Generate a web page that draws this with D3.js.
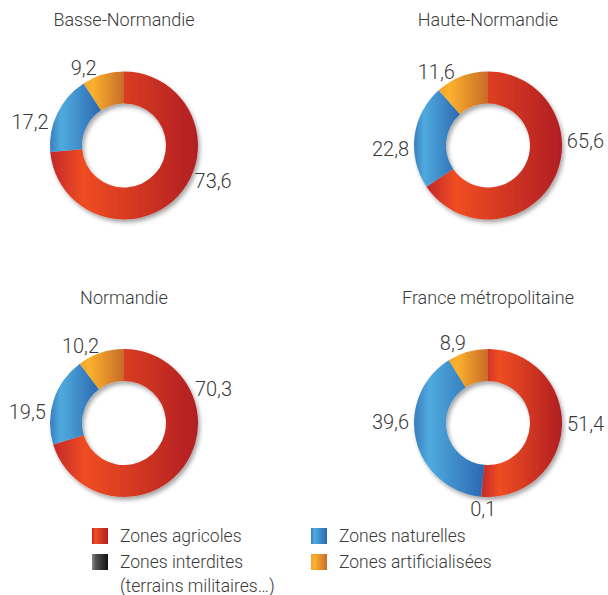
<!DOCTYPE html>
<html>
    <head>
        <meta charset="UTF-8" />
        <title>Occupation des sols - Normandie</title>
        <style>
            body { margin: 0; background: #fff; }
            text { font-family: Roboto, "Open Sans", sans-serif; font-weight: 300; fill: #3a3a3a; }
        </style>
    </head>
    <body>
        <script src="https://d3js.org/d3.v7.min.js"></script>
        <script type="text/javascript">
            // data (in %)
            var regions = ["Basse-Normandie", "Haute-Normandie", "Normandie", "France métropolitaine"];
            var categories = ["Zones agricoles", "Zones interdites", "Zones naturelles", "Zones artificialisées"];
            var agricoles = [73.6, 65.6, 70.3, 51.4];
            var interdites = [0, 0, 0, 0.1];
            var naturelles = [17.2, 22.8, 19.5, 39.6];
            var artificialisees = [9.2, 11.6, 10.2, 8.9];

            // where each value label sits around its ring (degrees, clockwise from top)
            var labelAngles = [
                [114, null, 285.5, 334],
                [87, null, 268, 328],
                [66.5, null, 277.5, 333.5],
                [90.5, 183, 270.5, 337.5]
            ];

            var gradients = [
                ["#c4272a", "#ef4d23", "#b11e24"],
                ["#8a8a8a", "#555555", "#111111"],
                ["#3a7ec0", "#4faade", "#2c69b1"],
                ["#f2a42e", "#fbb12d", "#c86b2b"]
            ];

            var width = 608, height = 595;
            var rOuter = 74, rInner = 42;

            var fr = d3.formatLocale({ decimal: ",", thousands: " ", grouping: [3], currency: ["", " €"] });
            var fmt = fr.format(".1f");

            var svg = d3.select("body").append("svg")
                .attr("width", width)
                .attr("height", height);

            var defs = svg.append("defs");

            gradients.forEach(function(g, i) {
                var lg = defs.append("linearGradient")
                    .attr("id", "grad" + i)
                    .attr("x1", 0).attr("x2", 1).attr("y1", 0).attr("y2", 0);
                lg.append("stop").attr("offset", "0%").attr("stop-color", g[0]);
                lg.append("stop").attr("offset", "22%").attr("stop-color", g[1]);
                lg.append("stop").attr("offset", "100%").attr("stop-color", g[2]);
            });

            defs.append("filter")
                .attr("id", "shadow")
                .attr("x", "-20%").attr("y", "-20%")
                .attr("width", "140%").attr("height", "140%")
                .append("feDropShadow")
                .attr("dx", 2).attr("dy", 3)
                .attr("stdDeviation", 2)
                .attr("flood-color", "#000")
                .attr("flood-opacity", 0.35);

            var col = d3.scalePoint().domain([0, 1]).range([124, 488]);
            var row = d3.scalePoint().domain([0, 1]).range([145.5, 423]);

            var pie = d3.pie().sort(null).value(function(d) { return d; });
            var arc = d3.arc().innerRadius(rInner).outerRadius(rOuter);

            regions.forEach(function(name, i) {
                var values = [agricoles[i], interdites[i], naturelles[i], artificialisees[i]];
                var cx = col(i % 2), cy = row(Math.floor(i / 2));

                var g = svg.append("g")
                    .attr("transform", "translate(" + cx + "," + cy + ")");

                g.append("text")
                    .attr("x", 0)
                    .attr("y", -119.5)
                    .attr("text-anchor", "middle")
                    .style("font-size", "18px")
                    .text(name);

                g.append("g")
                    .attr("filter", "url(#shadow)")
                    .selectAll("path")
                    .data(pie(values))
                    .join("path")
                    .attr("fill", function(d, j) { return "url(#grad" + j + ")"; })
                    .attr("d", arc);

                // value labels
                values.forEach(function(v, j) {
                    if (!v) return;
                    var a = labelAngles[i][j] * Math.PI / 180;
                    var t = g.append("text")
                        .attr("text-anchor", "middle")
                        .attr("dy", "0.35em")
                        .style("font-size", "20px")
                        .text(fmt(v));
                    var hw = t.node().getComputedTextLength() / 2, hh = 7.5;
                    var gap = 5;
                    t.attr("x", Math.sin(a) * (rOuter + gap + hw))
                        .attr("y", -Math.cos(a) * (rOuter + gap + hh));
                });
            });

            // legend
            var legendCol = d3.scalePoint().domain([0, 1]).range([92, 311]);
            var legendRow = d3.scalePoint().domain([0, 1]).range([528, 554]);
            var legendPos = [[0, 0], [0, 1], [1, 0], [1, 1]];
            var legendLines = [["Zones agricoles"], ["Zones interdites", "(terrains militaires…)"], ["Zones naturelles"], ["Zones artificialisées"]];

            categories.forEach(function(c, j) {
                var lx = legendCol(legendPos[j][0]), ly = legendRow(legendPos[j][1]);
                var lg = svg.append("g").attr("transform", "translate(" + lx + "," + ly + ")");
                lg.append("rect")
                    .attr("width", 16).attr("height", 16)
                    .attr("fill", "url(#grad" + j + ")");
                lg.append("text")
                    .attr("x", 28)
                    .attr("y", 13.5)
                    .style("font-size", "17.5px")
                    .selectAll("tspan")
                    .data(legendLines[j])
                    .join("tspan")
                    .attr("x", 28)
                    .attr("dy", function(d, k) { return k ? 24 : 0; })
                    .text(function(d) { return d; });
            });
        </script>
    </body>
</html>
